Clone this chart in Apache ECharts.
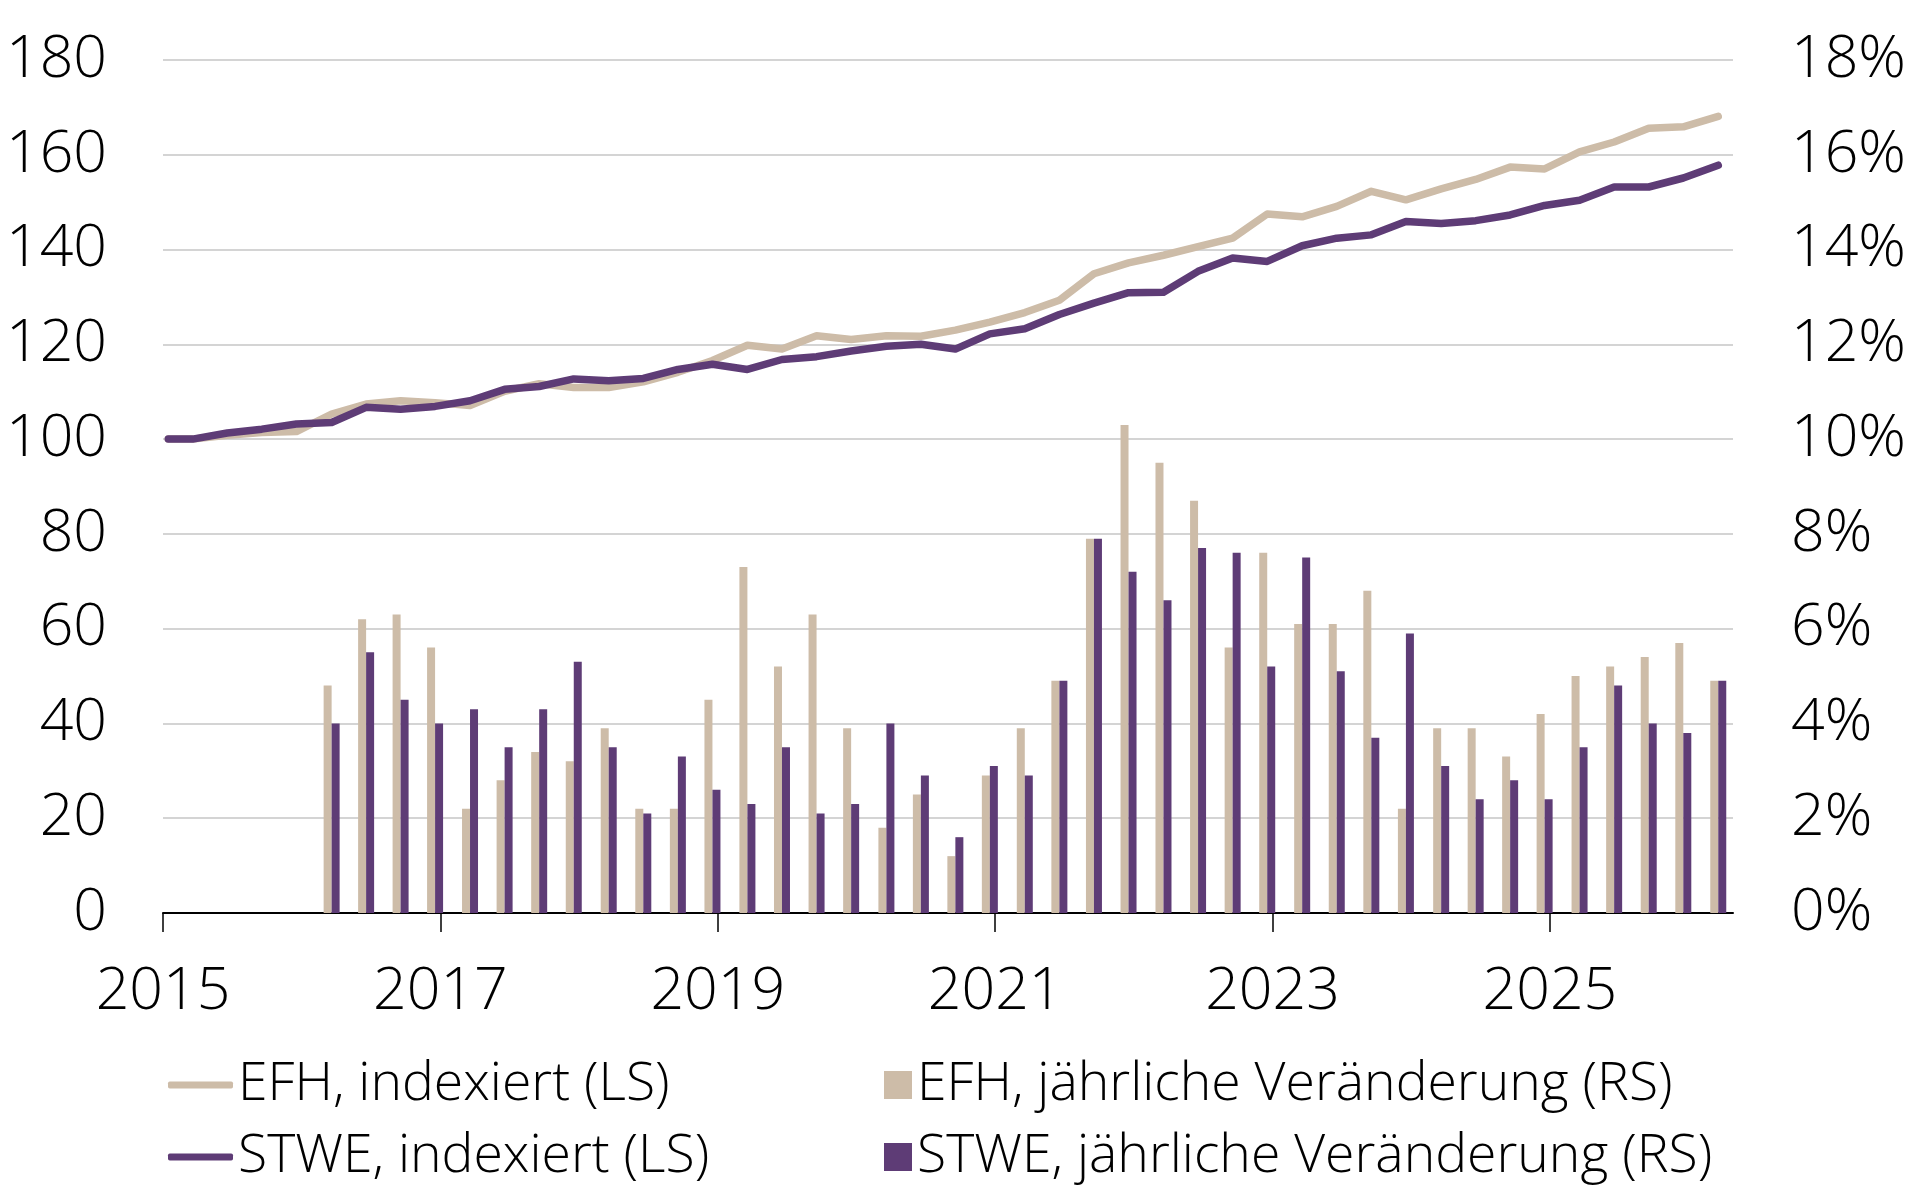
<!DOCTYPE html>
<html>
<head>
<meta charset="utf-8">
<script src="https://cdn.jsdelivr.net/npm/echarts@6/dist/echarts.min.js"></script>
<style>
  html, body { margin: 0; padding: 0; background: #fff; }
  #chart { width: 1920px; height: 1200px; }
</style>
</head>
<body>
<div id="chart"></div>
<script>
// Datenpunkte (Basis + Quartale 2015 Q1 bis 2026 Q1)
const dates = [
  '2015-01-15',
  '2015-03-20', '2015-06-19', '2015-09-18', '2015-12-18',
  '2016-03-20', '2016-06-19', '2016-09-18', '2016-12-18',
  '2017-03-20', '2017-06-19', '2017-09-18', '2017-12-18',
  '2018-03-20', '2018-06-19', '2018-09-18', '2018-12-18',
  '2019-03-20', '2019-06-19', '2019-09-18', '2019-12-18',
  '2020-03-20', '2020-06-19', '2020-09-18', '2020-12-18',
  '2021-03-20', '2021-06-19', '2021-09-18', '2021-12-18',
  '2022-03-20', '2022-06-19', '2022-09-18', '2022-12-18',
  '2023-03-20', '2023-06-19', '2023-09-18', '2023-12-18',
  '2024-03-20', '2024-06-19', '2024-09-18', '2024-12-18',
  '2025-03-20', '2025-06-19', '2025-09-18', '2025-12-18',
  '2026-03-20'
]

const efhIndex = [
  100.0,
  100.0, 100.8, 101.4, 101.6,
  105.3, 107.4, 108.1, 107.7,
  107.1, 110.1, 111.7, 110.9,
  110.9, 112.1, 114.1, 116.6,
  119.8, 119.0, 121.8, 121.0,
  121.8, 121.7, 123.0, 124.7,
  126.7, 129.3, 134.9, 137.2,
  138.8, 140.6, 142.4, 147.5,
  146.9, 149.1, 152.3, 150.5,
  152.8, 154.8, 157.4, 157.0,
  160.6, 162.7, 165.6, 165.9,
  168.1
]

const stweIndex = [
  100.0,
  100.0, 101.3, 102.1, 103.2,
  103.5, 106.7, 106.3, 106.9,
  108.1, 110.5, 111.1, 112.7,
  112.3, 112.8, 114.7, 115.8,
  114.7, 116.8, 117.4, 118.6,
  119.6, 120.0, 119.0, 122.2,
  123.3, 126.3, 128.7, 130.9,
  131.0, 135.4, 138.2, 137.5,
  140.8, 142.4, 143.1, 145.9,
  145.5, 146.1, 147.3, 149.3,
  150.4, 153.2, 153.2, 155.1,
  157.8
]

// Jaehrliche Veraenderung in %, ab 2016 Q1
const yoyDates = dates.slice(5)

const efhYoY = [
  4.8, 6.2, 6.3, 5.6,
  2.2, 2.8, 3.4, 3.2,
  3.9, 2.2, 2.2, 4.5,
  7.3, 5.2, 6.3, 3.9,
  1.8, 2.5, 1.2, 2.9,
  3.9, 4.9, 7.9, 10.3,
  9.5, 8.7, 5.6, 7.6,
  6.1, 6.1, 6.8, 2.2,
  3.9, 3.9, 3.3, 4.2,
  5.0, 5.2, 5.4, 5.7,
  4.9
]

const stweYoY = [
  4.0, 5.5, 4.5, 4.0,
  4.3, 3.5, 4.3, 5.3,
  3.5, 2.1, 3.3, 2.6,
  2.3, 3.5, 2.1, 2.3,
  4.0, 2.9, 1.6, 3.1,
  2.9, 4.9, 7.9, 7.2,
  6.6, 7.7, 7.6, 5.2,
  7.5, 5.1, 3.7, 5.9,
  3.1, 2.4, 2.8, 2.4,
  3.5, 4.8, 4.0, 3.8,
  4.9
]

const yearTicks = [2015, 2017, 2019, 2021, 2023, 2025]

const names = {
  efhIdx: 'EFH, indexiert (LS)',
  stweIdx: 'STWE, indexiert (LS)',
  efhYoY: 'EFH, jährliche Veränderung (RS)',
  stweYoY: 'STWE, jährliche Veränderung (RS)'
}

const beige = '#cdbca8'
const purple = '#5e3c76'
const font = 'Open Sans'
const weight = 350

function toYear(d) {
  const t = new Date(d + 'T00:00:00Z')
  const y = t.getUTCFullYear()
  const start = Date.UTC(y, 0, 1)
  const end = Date.UTC(y + 1, 0, 1)
  return y + (t.getTime() - start) / (end - start)
}

function pairs(ds, vals) {
  return ds.map((d, i) => [toYear(d), vals[i]])
}

const chart = echarts.init(document.getElementById('chart'))

chart.setOption({
  animation: false,
  backgroundColor: '#fff',
  textStyle: { fontFamily: font },
  grid: { left: 163, right: 187, top: 60, bottom: 287, containLabel: false },
  legend: [
    {
      orient: 'vertical',
      left: 168,
      top: 1055,
      padding: 0,
      itemGap: 12,
      itemWidth: 65,
      itemHeight: 7,
      icon: 'roundRect',
      textStyle: { fontFamily: font, fontWeight: weight, fontSize: 53.5, color: '#000', lineHeight: 60 },
      data: [names.efhIdx, names.stweIdx]
    },
    {
      orient: 'vertical',
      left: 884,
      top: 1055,
      padding: 0,
      itemGap: 12,
      itemWidth: 28,
      itemHeight: 28,
      icon: 'rect',
      textStyle: { fontFamily: font, fontWeight: weight, fontSize: 53.5, color: '#000', lineHeight: 60 },
      data: [names.efhYoY, names.stweYoY]
    }
  ],
  xAxis: {
    type: 'value',
    min: 2015,
    max: 2026.32,
    splitLine: { show: false },
    axisLine: { show: true, lineStyle: { color: '#000', width: 2 } },
    axisTick: {
      show: true,
      customValues: yearTicks,
      length: 19,
      lineStyle: { color: '#000', width: 1.5 }
    },
    axisLabel: {
      customValues: yearTicks,
      margin: 50,
      fontFamily: font,
      fontWeight: weight,
      fontSize: 59,
      color: '#000',
      formatter: v => String(Math.round(v))
    }
  },
  yAxis: [
    {
      type: 'value',
      min: 0,
      max: 180,
      interval: 20,
      axisLine: { show: false },
      axisTick: { show: false },
      splitLine: { show: true, lineStyle: { color: '#c6c6c6', width: 1.5 } },
      axisLabel: { margin: 56, fontFamily: font, fontWeight: weight, fontSize: 59, color: '#000' }
    },
    {
      type: 'value',
      min: 0,
      max: 18,
      interval: 2,
      axisLine: { show: false },
      axisTick: { show: false },
      splitLine: { show: false },
      axisLabel: { margin: 58, fontFamily: font, fontWeight: weight, fontSize: 59, color: '#000', formatter: '{value}%' }
    }
  ],
  series: [
    {
      name: names.efhYoY,
      type: 'bar',
      yAxisIndex: 1,
      barWidth: 8,
      barGap: '0%',
      itemStyle: { color: beige },
      data: pairs(yoyDates, efhYoY)
    },
    {
      name: names.stweYoY,
      type: 'bar',
      yAxisIndex: 1,
      barWidth: 8,
      barGap: '0%',
      itemStyle: { color: purple },
      data: pairs(yoyDates, stweYoY)
    },
    {
      name: names.efhIdx,
      type: 'line',
      yAxisIndex: 0,
      showSymbol: false,
      symbol: 'none',
      itemStyle: { color: beige },
      lineStyle: { color: beige, width: 7.5, cap: 'round', join: 'round' },
      data: pairs(dates, efhIndex)
    },
    {
      name: names.stweIdx,
      type: 'line',
      yAxisIndex: 0,
      showSymbol: false,
      symbol: 'none',
      itemStyle: { color: purple },
      lineStyle: { color: purple, width: 7.5, cap: 'round', join: 'round' },
      data: pairs(dates, stweIndex)
    }
  ]
})
</script>
</body>
</html>
